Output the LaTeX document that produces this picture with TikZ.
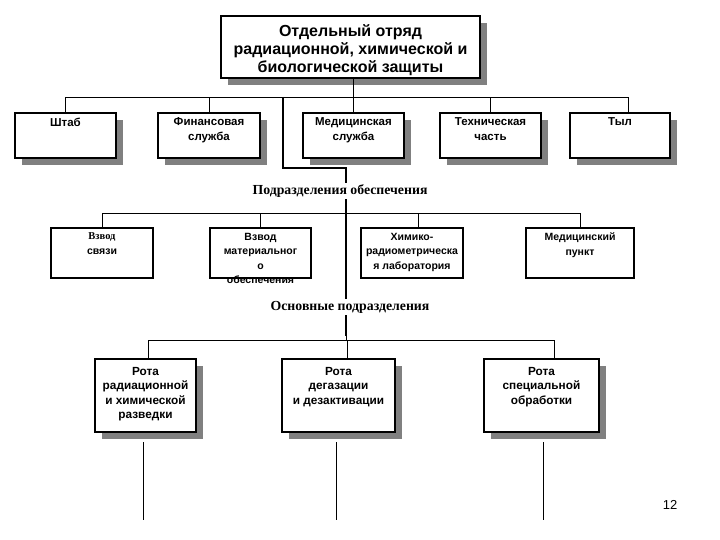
\documentclass[tikz,border=0pt]{standalone}
\usepackage{fontspec}
\setmainfont{Liberation Sans}
\newfontfamily\seriffont{Liberation Serif}
\usetikzlibrary{shadows}
\definecolor{shadowgray}{RGB}{128,128,128}
\tikzset{
  box/.style={draw=black, line width=2pt, fill=white, inner sep=0pt, anchor=north west},
  shad/.style={drop shadow={shadow xshift=7pt, shadow yshift=-7pt, opacity=1, fill=shadowgray}},
  fonttop/.style={font=\bfseries\fontsize{16}{18}\selectfont},
  fontrowa/.style={font=\bfseries\fontsize{11.5}{15}\selectfont},
  fontrowb/.style={font=\bfseries\fontsize{10.5}{14.5}\selectfont},
  fontrowc/.style={font=\bfseries\fontsize{11.8}{14.5}\selectfont},
  conn/.style={draw=black, line width=0.9pt},
  spine/.style={draw=black, line width=2.6pt},
  lbl/.style={fill=white, inner sep=1.5pt, font=\seriffont\bfseries\fontsize{13.8}{15}\selectfont},
}
\newcommand\boxtext[4]{\parbox[c][#2][t]{#1}{\centering\vspace*{#3}#4}}
\begin{document}
\begin{tikzpicture}[x=1pt,y=-1pt]
\fill[white] (0,0) rectangle (720,540);
\useasboundingbox (0,0) rectangle (720,540);

% top
\node[box,shad,fonttop] (top) at (220,15) {\boxtext{259pt}{62pt}{9pt}{Отдельный отряд\\радиационной, химической и\\биологической защиты}};

% row 1
\node[box,shad,fontrowa] (stab) at (14,112) {\boxtext{101pt}{45pt}{5pt}{Штаб}};
\node[box,shad,fontrowa] (fin) at (157,112) {\boxtext{102pt}{45pt}{5pt}{Финансовая\\служба}};
\node[box,shad,fontrowa] (med) at (302,112) {\boxtext{101pt}{45pt}{5pt}{Медицинская\\служба}};
\node[box,shad,fontrowa] (tech) at (439,112) {\boxtext{101pt}{45pt}{5pt}{Техническая\\часть}};
\node[box,shad,fontrowa] (tyl) at (569,112) {\boxtext{100pt}{45pt}{5pt}{Тыл}};

% row 2
\node[box,fontrowb] (vs) at (50,227) {\boxtext{102pt}{50pt}{5pt}{{\seriffont Взвод}\\связи}};
\node[box,fontrowb] (vm) at (209,227) {\boxtext{101pt}{50pt}{5pt}{Взвод\\материальног\\о\\обеспечения}};
\node[box,fontrowb] (hl) at (360,227) {\boxtext{102pt}{50pt}{5pt}{Химико-\\радиометрическа\\я лаборатория}};
\node[box,fontrowb] (mp) at (525,227) {\boxtext{108pt}{50pt}{5pt}{Медицинский\\пункт}};

% row 3
\node[box,shad,fontrowc] (r1) at (94,358) {\boxtext{101pt}{73pt}{8pt}{Рота\\радиационной\\и химической\\разведки}};
\node[box,shad,fontrowc] (r2) at (281,358) {\boxtext{113pt}{73pt}{8pt}{Рота\\дегазации\\и дезактивации}};
\node[box,shad,fontrowc] (r3) at (483,358) {\boxtext{115pt}{73pt}{8pt}{Рота\\специальной\\обработки}};

% bus lines
\coordinate (bus1) at (0,97);
\coordinate (bus2) at (0,213);
\coordinate (bus3) at (0,340);
\coordinate (tylin) at ([xshift=8pt]tyl.north);
\coordinate (hlin) at ([xshift=6pt]hl.north);
\coordinate (r1in) at ([xshift=2.5pt]r1.north);
\coordinate (r2in) at ([xshift=8.5pt]r2.north);
\coordinate (r3in) at ([xshift=12.5pt]r3.north);

\draw[conn] (med.north) -- (med.north |- top.south);
\draw[conn] (stab.north) |- (bus1 -| tylin) -- (tylin);
\draw[conn] (fin.north) -- (fin.north |- bus1);
\draw[conn] (tech.north) -- (tech.north |- bus1);

\draw[conn] (vs.north) |- (bus2 -| mp.north) -- (mp.north);
\draw[conn] (vm.north) -- (vm.north |- bus2);
\draw[conn] (hlin) -- (hlin |- bus2);

\draw[conn] (r1in) |- (bus3 -| r3in) -- (r3in);
\draw[conn] (r2in) -- (r2in |- bus3);

% spine
\coordinate (sp1) at (283,97);
\coordinate (sp2) at (346,168);
\coordinate (sp3) at (346,336);
\draw[spine] (sp1) |- (sp2) -- (sp3);
\draw[conn] (sp3) -- (sp3 |- bus3);

\node[lbl] (l1) at (340,191) {Подразделения обеспечения};
\node[lbl] (l2) at (350,307) {Основные подразделения};

% bottom lines
\coordinate (b1) at (143,520);
\coordinate (b2) at (336,520);
\coordinate (b3) at (543,520);
\draw[conn] (b1 |- r1.south) ++(0,9) -- (b1);
\draw[conn] (b2 |- r2.south) ++(0,9) -- (b2);
\draw[conn] (b3 |- r3.south) ++(0,9) -- (b3);

\node[font=\fontsize{13}{15}\selectfont] (pg) at (670,505) {12};
\end{tikzpicture}
\end{document}
